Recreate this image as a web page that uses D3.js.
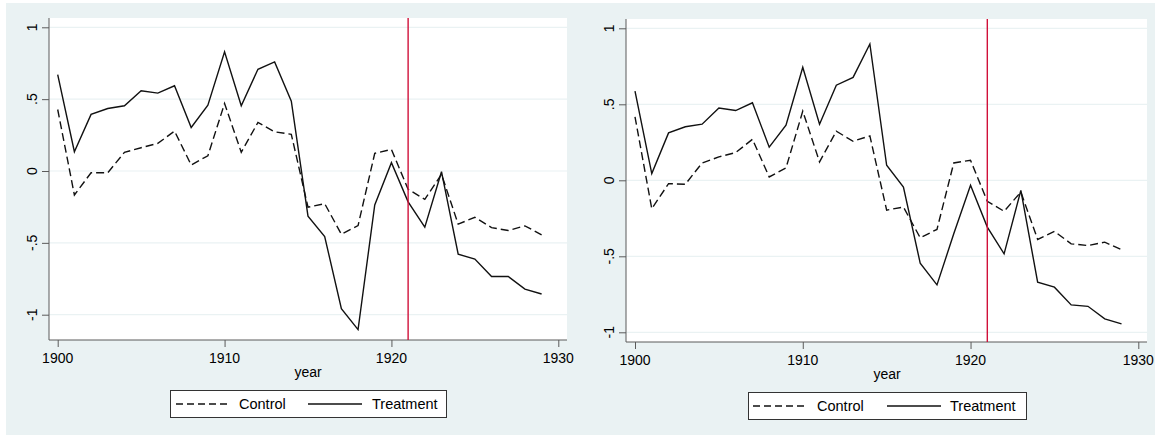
<!DOCTYPE html>
<html><head><meta charset="utf-8">
<script src="https://cdn.jsdelivr.net/npm/d3@7"></script>
<style>body{margin:0;background:#fff}svg{display:block}text{font-family:"Liberation Sans",Arial,sans-serif}</style>
</head><body><svg id="c" width="1155" height="436"></svg>
<script>
const years = d3.range(1900, 1930);
const leftControl = [0.428,-0.167,-0.012,-0.012,0.130,0.162,0.192,0.278,0.042,0.106,0.470,0.130,0.338,0.273,0.255,-0.252,-0.227,-0.440,-0.380,0.123,0.150,-0.127,-0.197,-0.023,-0.370,-0.322,-0.394,-0.414,-0.382,-0.444];
const leftTreatment = [0.671,0.134,0.394,0.435,0.454,0.558,0.542,0.593,0.303,0.458,0.829,0.454,0.708,0.759,0.486,-0.314,-0.456,-0.958,-1.104,-0.236,0.058,-0.215,-0.391,-0.005,-0.579,-0.613,-0.734,-0.734,-0.822,-0.856];
const rightControl = [0.418,-0.187,-0.022,-0.026,0.114,0.154,0.182,0.270,0.022,0.081,0.455,0.121,0.323,0.257,0.292,-0.196,-0.176,-0.378,-0.323,0.114,0.132,-0.138,-0.204,-0.077,-0.389,-0.336,-0.418,-0.429,-0.407,-0.457];
const rightTreatment = [0.587,0.044,0.312,0.352,0.369,0.475,0.459,0.510,0.218,0.363,0.743,0.369,0.626,0.677,0.897,0.099,-0.044,-0.545,-0.688,-0.352,-0.033,-0.308,-0.484,-0.066,-0.670,-0.703,-0.820,-0.829,-0.912,-0.945];
const yTicks = [-1,-0.5,0,0.5,1];
const yTickLabels = ["-1","-.5","0",".5","1"];
const xTicks = [1900,1910,1920,1930];
const eventYear = 1921;
const seriesNames = ["Control","Treatment"];

const svg = d3.select("#c");
svg.append("rect").attr("x",6).attr("y",3).attr("width",1149).attr("height",432).attr("fill","#eaf2f3");

const panels = [
  {ctrl:leftControl, trt:leftTreatment, px0:49, px1:567, py0:18, py1:340, xr:[57.7,558.3], yr:[314.7,27.3], ylab:37, xlabY:363, yearX:308, yearY:377, leg:{x:170,y:390,w:276,h:27, d0:176,d1:231, c:239, s0:308, s1:362, t:372}},
  {ctrl:rightControl, trt:rightTreatment, px0:626, px1:1147, py0:19, py1:342, xr:[635,1138.3], yr:[332.3,28.3], ylab:614, xlabY:365, yearX:887, yearY:379, leg:{x:748,y:392,w:278,h:27, d0:753,d1:808, c:817, s0:887, s1:941, t:950}}
];

panels.forEach(p => {
  const g = svg.append("g");
  const x = d3.scaleLinear().domain([1900,1930]).range(p.xr);
  const y = d3.scaleLinear().domain([-1,1]).range(p.yr);
  g.append("rect").attr("x",p.px0).attr("y",p.py0).attr("width",p.px1-p.px0).attr("height",p.py1-p.py0).attr("fill","#fff");
  // grid
  g.selectAll(".grid").data(yTicks).join("line")
    .attr("x1",p.px0).attr("x2",p.px1).attr("y1",d=>y(d)).attr("y2",d=>y(d))
    .attr("stroke","#eaf2f3").attr("stroke-width",1.2);
  // y axis
  const ya = d3.axisLeft(y).tickValues(yTicks).tickSize(7).tickFormat("");
  const yg = g.append("g").attr("transform",`translate(${p.px0},0)`).call(ya);
  yg.select(".domain").attr("d",`M0,${p.py0}V${p.py1}`).attr("stroke","#5a5a5a");
  yg.selectAll(".tick line").attr("stroke","#5a5a5a");
  g.selectAll(".ylab").data(yTicks).join("text")
    .attr("transform",(d)=>`translate(${p.ylab},${y(d)}) rotate(-90)`)
    .attr("text-anchor","middle").attr("font-size",14).attr("fill","#000")
    .text((d,i)=>yTickLabels[i]);
  // x axis
  const xa = d3.axisBottom(x).tickValues(xTicks).tickSize(7).tickFormat("");
  const xg = g.append("g").attr("transform",`translate(0,${p.py1})`).call(xa);
  xg.select(".domain").attr("d",`M${p.px0},0H${p.px1}`).attr("stroke","#5a5a5a");
  xg.selectAll(".tick line").attr("stroke","#5a5a5a");
  g.selectAll(".xlab").data(xTicks).join("text")
    .attr("x",d=>x(d)).attr("y",p.xlabY).attr("text-anchor","middle").attr("font-size",14).text(d=>d);
  g.append("text").attr("x",p.yearX).attr("y",p.yearY).attr("text-anchor","middle").attr("font-size",14).text("year");
  // lines
  const line = d3.line().x((d,i)=>x(years[i])).y(d=>y(d));
  g.append("path").datum(p.ctrl).attr("d",line).attr("fill","none").attr("stroke","#111").attr("stroke-width",1.4).attr("stroke-dasharray","8,4");
  g.append("path").datum(p.trt).attr("d",line).attr("fill","none").attr("stroke","#111").attr("stroke-width",1.4);
  // event line
  g.append("line").attr("x1",x(eventYear)).attr("x2",x(eventYear)).attr("y1",p.py0).attr("y2",p.py1)
    .attr("stroke","#d0103a").attr("stroke-width",1.4);
  // legend
  const L = p.leg;
  g.append("rect").attr("x",L.x+0.5).attr("y",L.y+0.5).attr("width",L.w).attr("height",L.h).attr("fill","#fff").attr("stroke","#333").attr("stroke-width",1);
  const ly = L.y + L.h/2 + 0.5;
  g.append("line").attr("x1",L.d0).attr("x2",L.d1).attr("y1",ly).attr("y2",ly).attr("stroke","#111").attr("stroke-width",1.4).attr("stroke-dasharray","7,4");
  g.append("text").attr("x",L.c).attr("y",ly+5).attr("font-size",14.5).text(seriesNames[0]);
  g.append("line").attr("x1",L.s0).attr("x2",L.s1).attr("y1",ly).attr("y2",ly).attr("stroke","#111").attr("stroke-width",1.4);
  g.append("text").attr("x",L.t).attr("y",ly+5).attr("font-size",14.5).text(seriesNames[1]);
});
</script></body></html>
